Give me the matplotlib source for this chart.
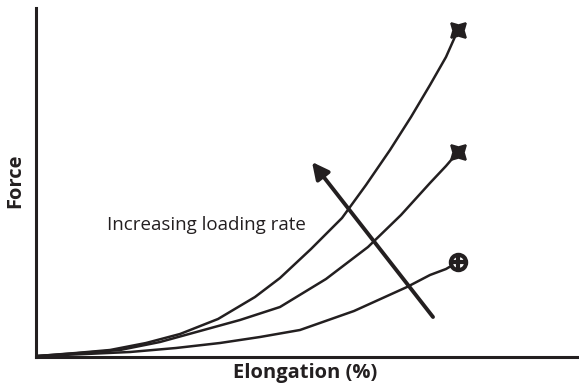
import matplotlib.pyplot as plt

# curve points (x = elongation, y = force, arbitrary units)
top_x = [2, 40, 74, 110, 144, 182, 219, 244, 275, 306, 330, 354, 375, 394, 410, 422]
top_y = [1, 4, 7, 14, 23, 38, 60, 79, 108, 139, 172, 207, 240, 272, 300, 327]
mid_x = [2, 44, 84, 124, 164, 204, 244, 290, 332, 365, 394, 410, 422]
mid_y = [1, 4, 7, 15, 26, 37, 50, 78, 110, 142, 174, 191, 205]
low_x = [2, 50, 94, 140, 184, 224, 264, 318, 371, 394, 410, 422]
low_y = [1, 3, 5, 9, 14, 20, 27, 46, 70, 82, 88, 95]

arrow_start = (397, 40)
arrow_end = (276, 195)

fig = plt.figure(figsize=(5.79, 3.89), dpi=100)
ax = fig.add_axes([36 / 579, 32 / 389, 543 / 579, 349 / 389])
ax.set_xlim(0, 543)
ax.set_ylim(0, 349)

for s in ["top", "right"]:
    ax.spines[s].set_visible(False)
ax.spines["left"].set_linewidth(2.2)
ax.spines["bottom"].set_linewidth(2.2)
ax.spines["left"].set_color("#231f20")
ax.spines["bottom"].set_color("#231f20")
ax.set_xticks([])
ax.set_yticks([])

lc = "#231f20"
ax.plot(top_x, top_y, color=lc, lw=1.8, solid_capstyle="round", solid_joinstyle="round")
ax.plot(mid_x, mid_y, color=lc, lw=1.8, solid_capstyle="round", solid_joinstyle="round")
ax.plot(low_x, low_y, color=lc, lw=1.8, solid_capstyle="round", solid_joinstyle="round")

# failure markers at the curve ends
ax.plot(top_x[-1], top_y[-1], marker=(4, 1, 45), ms=15, color=lc, mew=1.5)
ax.plot(mid_x[-1], mid_y[-1], marker=(4, 1, 45), ms=15, color=lc, mew=1.5)
ax.plot(low_x[-1], low_y[-1], marker="o", ms=11, mfc="white", mec=lc, mew=3)
ax.plot(low_x[-1], low_y[-1], marker="+", ms=11, color=lc, mew=3)

ax.annotate("", xy=arrow_end, xytext=arrow_start,
            arrowprops=dict(arrowstyle="-|>,head_length=1.0,head_width=0.5",
                            color=lc, lw=2.8, shrinkA=0, shrinkB=0))

ax.text(71, 132, "Increasing loading rate", fontsize=13.5, family="Open Sans",
        color=lc, va="center", ha="left")

fig.text(305 / 579, 1 - 373 / 389, "Elongation (%)", fontsize=14.5, fontweight="bold",
         family="Open Sans", color=lc, ha="center", va="center")
fig.text(15 / 579, 1 - 181 / 389, "Force", fontsize=14.5, fontweight="bold",
         family="Open Sans", color=lc, ha="center", va="center", rotation=90)

fig.savefig("out.png", dpi=100)
